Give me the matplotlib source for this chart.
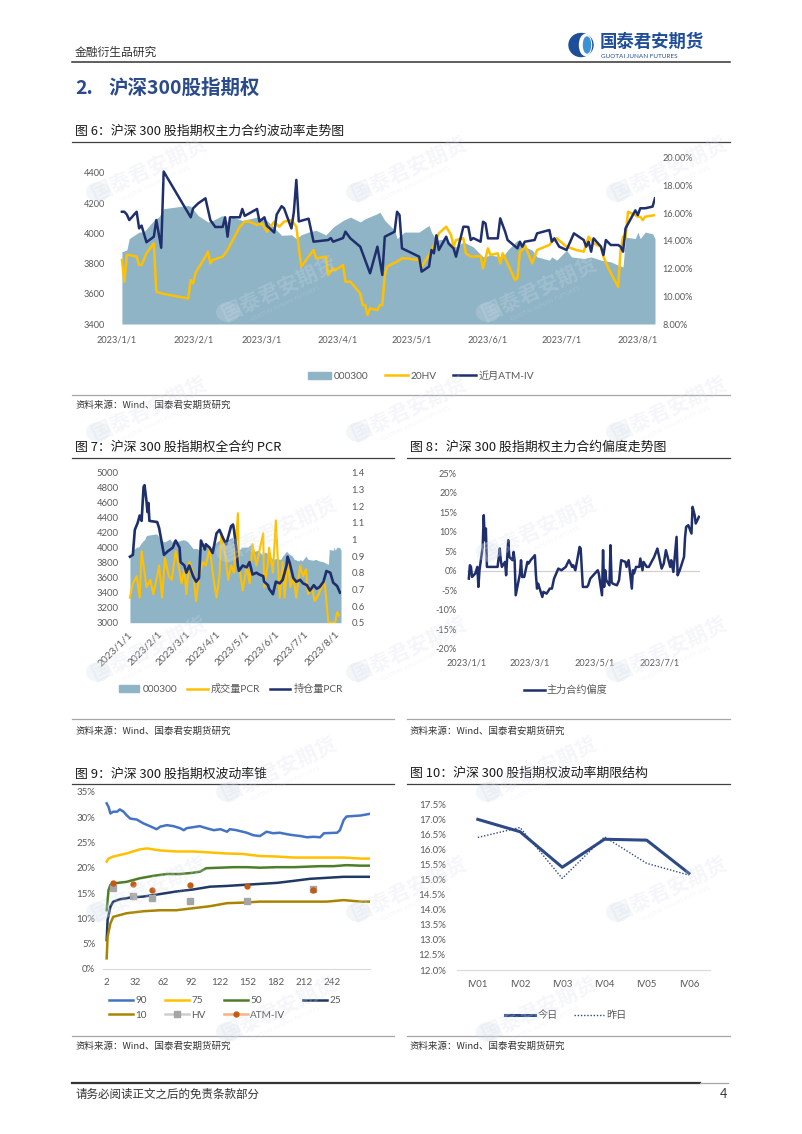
import matplotlib
matplotlib.use('Agg')
import matplotlib.pyplot as plt
import matplotlib.dates as mdates
from matplotlib.patches import Patch, Ellipse
from matplotlib.lines import Line2D
from matplotlib.ticker import FuncFormatter
import numpy as np
import pandas as pd

plt.rcParams['font.family'] = ['Lato', 'Noto Sans CJK SC', 'DejaVu Sans']
CJK = ['Noto Sans CJK SC', 'DejaVu Sans']

# ---------------- data ----------------
# 图6 / 图7: 沪深300 指数 (面积)
hs300 = [('01-03', 3877), ('01-05', 3890), ('01-06', 3965), ('01-10', 4008), ('01-12', 4010),
         ('01-16', 4085), ('01-18', 4107), ('01-20', 4163), ('01-30', 4184), ('01-31', 4178),
         ('02-03', 4118), ('02-07', 4075), ('02-09', 4085), ('02-13', 4118), ('02-15', 4075),
         ('02-17', 4107), ('02-21', 4085), ('02-27', 4107), ('03-03', 4085), ('03-07', 4020),
         ('03-09', 3987), ('03-13', 3990), ('03-15', 3965), ('03-17', 3990), ('03-20', 4008),
         ('03-23', 4020), ('03-27', 3989), ('03-30', 4041), ('04-03', 4085), ('04-06', 4107),
         ('04-10', 4075), ('04-12', 4096), ('04-17', 4130), ('04-18', 4140), ('04-20', 4085),
         ('04-24', 4020), ('04-25', 3965), ('04-28', 4008), ('05-04', 4008), ('05-05', 4020),
         ('05-08', 4052), ('05-09', 4008), ('05-11', 3954), ('05-15', 3965), ('05-17', 3932),
         ('05-19', 3910), ('05-22', 3943), ('05-26', 3910), ('05-30', 3844), ('06-02', 3855),
         ('06-07', 3844), ('06-09', 3888), ('06-13', 3954), ('06-15', 3921), ('06-19', 3888),
         ('06-21', 3844), ('06-26', 3822), ('06-27', 3844), ('06-29', 3822), ('07-03', 3888),
         ('07-05', 3844), ('07-10', 3833), ('07-13', 3844), ('07-17', 3822), ('07-21', 3811),
         ('07-24', 3789), ('07-26', 3778), ('07-27', 3975), ('07-31', 3965), ('08-01', 4008),
         ('08-02', 3965), ('08-04', 4008), ('08-07', 3997), ('08-08', 3965)]

# 图6: 20HV (%)
hv20 = [('01-03', 12.62), ('01-04', 11.05), ('01-05', 12.98), ('01-06', 12.98), ('01-09', 12.86),
        ('01-10', 12.26), ('01-11', 12.26), ('01-13', 13.1), ('01-16', 13.82), ('01-17', 10.33),
        ('01-20', 10.17), ('01-30', 9.85), ('01-31', 11.17), ('02-01', 10.94), ('02-02', 11.7),
        ('02-06', 12.86), ('02-07', 13.22), ('02-08', 12.38), ('02-09', 12.62), ('02-13', 12.86),
        ('02-15', 13.34), ('02-20', 15.02), ('02-22', 15.38), ('02-24', 15.38), ('02-27', 15.14),
        ('03-01', 15.26), ('03-03', 14.66), ('03-06', 15.38), ('03-08', 15.02), ('03-10', 15.38),
        ('03-13', 15.5), ('03-15', 15.02), ('03-16', 13.58), ('03-17', 12.14), ('03-21', 13.1),
        ('03-22', 13.34), ('03-23', 12.74), ('03-27', 12.86), ('03-28', 11.54), ('03-30', 12.02),
        ('03-31', 11.9), ('04-03', 12.26), ('04-04', 11.05), ('04-06', 11.05), ('04-10', 10.21),
        ('04-11', 9.37), ('04-12', 9.37), ('04-13', 8.65), ('04-14', 9.13), ('04-17', 9.0),
        ('04-18', 9.37), ('04-19', 9.37), ('04-20', 11.54), ('04-21', 12.14), ('04-25', 12.5),
        ('04-27', 12.74), ('04-28', 12.74), ('05-04', 12.62), ('05-05', 12.14), ('05-08', 12.98),
        ('05-10', 13.7), ('05-12', 14.54), ('05-15', 15.02), ('05-17', 14.42), ('05-18', 13.58),
        ('05-19', 14.06), ('05-22', 14.18), ('05-23', 13.1), ('05-25', 12.86), ('05-29', 12.9),
        ('05-30', 12.02), ('06-01', 13.46), ('06-02', 12.98), ('06-05', 13.1), ('06-06', 12.38),
        ('06-07', 13.1), ('06-09', 12.38), ('06-12', 11.17), ('06-13', 11.3), ('06-14', 13.22),
        ('06-15', 13.34), ('06-16', 13.7), ('06-19', 12.38), ('06-20', 12.86), ('06-21', 13.34),
        ('06-26', 13.7), ('06-27', 13.94), ('06-29', 14.18), ('07-03', 13.58), ('07-05', 13.46),
        ('07-07', 13.34), ('07-10', 13.22), ('07-12', 14.3), ('07-14', 13.82), ('07-17', 13.58),
        ('07-18', 12.86), ('07-20', 12.02), ('07-24', 10.69), ('07-25', 13.34), ('07-26', 14.3),
        ('07-27', 14.18), ('07-28', 16.1), ('07-31', 15.86), ('08-01', 15.74), ('08-02', 15.74),
        ('08-03', 15.5), ('08-04', 15.74), ('08-08', 15.86)]

# 图6: 近月ATM-IV (%)
atm_iv = [('01-03', 16.1), ('01-04', 16.1), ('01-05', 15.9), ('01-06', 15.5), ('01-09', 16.1),
          ('01-10', 14.9), ('01-11', 15.1), ('01-13', 13.9), ('01-16', 14.3), ('01-17', 15.5),
          ('01-19', 13.5), ('01-20', 19.0), ('01-31', 15.7), ('02-01', 16.35), ('02-03', 16.7),
          ('02-06', 17.07), ('02-08', 15.5), ('02-10', 15.0), ('02-13', 15.0), ('02-14', 15.7),
          ('02-15', 14.3), ('02-16', 15.7), ('02-20', 15.7), ('02-21', 16.3), ('02-22', 15.8),
          ('02-24', 16.0), ('02-27', 16.3), ('02-28', 15.4), ('03-02', 15.7), ('03-03', 15.1),
          ('03-06', 14.6), ('03-07', 15.9), ('03-09', 16.5), ('03-10', 16.35), ('03-13', 14.9),
          ('03-14', 16.1), ('03-15', 18.4), ('03-16', 15.4), ('03-20', 15.6), ('03-22', 13.94),
          ('03-28', 14.06), ('03-29', 14.2), ('03-30', 13.94), ('04-03', 14.2), ('04-04', 14.66),
          ('04-06', 14.18), ('04-10', 13.58), ('04-12', 12.62), ('04-14', 11.66), ('04-17', 13.58),
          ('04-19', 11.54), ('04-20', 14.3), ('04-24', 14.66), ('04-25', 16.1), ('04-26', 15.86),
          ('04-27', 13.46), ('05-04', 12.86), ('05-05', 11.78), ('05-08', 12.14), ('05-09', 13.34),
          ('05-10', 13.1), ('05-11', 14.4), ('05-12', 13.34), ('05-15', 14.3), ('05-16', 13.8),
          ('05-18', 13.46), ('05-19', 12.86), ('05-22', 15.02), ('05-23', 15.02), ('05-24', 15.0),
          ('05-25', 14.06), ('05-26', 14.2), ('05-29', 13.94), ('05-30', 15.38), ('05-31', 15.26),
          ('06-01', 14.18), ('06-05', 14.18), ('06-06', 15.62), ('06-08', 14.66), ('06-09', 14.06),
          ('06-13', 13.46), ('06-14', 13.94), ('06-15', 13.58), ('06-16', 13.94), ('06-20', 14.06),
          ('06-21', 14.54), ('06-26', 14.78), ('06-27', 13.94), ('06-28', 14.18), ('06-30', 13.58),
          ('07-03', 13.34), ('07-06', 14.54), ('07-10', 14.06), ('07-11', 13.58), ('07-12', 13.94),
          ('07-13', 13.22), ('07-14', 14.18), ('07-17', 13.58), ('07-18', 12.98), ('07-19', 14.06),
          ('07-21', 13.7), ('07-24', 13.7), ('07-25', 13.58), ('07-26', 13.22), ('07-27', 14.9),
          ('07-31', 16.2), ('08-01', 15.86), ('08-02', 16.35), ('08-04', 16.35), ('08-07', 16.47),
          ('08-08', 17.07)]

# 图7: 成交量PCR / 持仓量PCR
vol_pcr = [('01-03', 0.65), ('01-06', 0.736), ('01-10', 0.779), ('01-13', 0.65), ('01-15', 0.929),
           ('01-17', 0.843), ('01-20', 0.714), ('01-24', 0.757), ('01-27', 0.671), ('01-31', 0.779),
           ('02-02', 0.843), ('02-05', 0.65), ('02-08', 0.886), ('02-12', 0.779), ('02-15', 0.757),
           ('02-19', 0.929), ('02-22', 0.843), ('02-25', 0.736), ('02-28', 0.821), ('03-02', 0.671),
           ('03-05', 0.864), ('03-09', 0.80), ('03-12', 0.629), ('03-15', 0.779), ('03-19', 0.864),
           ('03-22', 0.843), ('03-26', 0.95), ('03-29', 0.80), ('04-02', 0.65), ('04-05', 0.779),
           ('04-07', 1.036), ('04-10', 0.95), ('04-14', 0.757), ('04-17', 0.843), ('04-20', 0.80),
           ('04-24', 1.157), ('04-25', 0.843), ('04-29', 0.693), ('05-03', 0.843), ('05-06', 0.736),
           ('05-09', 0.971), ('05-13', 0.843), ('05-16', 0.929), ('05-20', 1.036), ('05-21', 0.714),
           ('05-25', 0.864), ('05-26', 0.95), ('05-30', 0.80), ('06-02', 1.114), ('06-06', 0.65),
           ('06-09', 0.864), ('06-11', 0.65), ('06-14', 0.886), ('06-17', 0.714), ('06-20', 0.779),
           ('06-23', 0.65), ('06-27', 0.843), ('06-30', 0.779), ('07-03', 0.821), ('07-05', 0.671),
           ('07-09', 0.714), ('07-12', 0.629), ('07-16', 0.671), ('07-19', 0.714), ('07-22', 0.757),
           ('07-24', 0.629), ('07-26', 0.50), ('07-30', 0.50), ('08-02', 0.50), ('08-04', 0.564),
           ('08-06', 0.543)]

oi_pcr = [('01-03', 0.896), ('01-06', 0.907), ('01-08', 1.057), ('01-11', 1.10), ('01-13', 1.143),
          ('01-15', 1.111), ('01-17', 1.314), ('01-18', 1.325), ('01-20', 1.229), ('01-21', 1.164),
          ('01-22', 1.218), ('01-23', 1.111), ('01-31', 1.104), ('02-02', 1.068), ('02-04', 1.004),
          ('02-05', 0.971), ('02-07', 0.907), ('02-11', 0.929), ('02-16', 0.95), ('02-19', 0.993),
          ('02-23', 0.95), ('02-24', 0.864), ('02-28', 0.843), ('03-02', 0.80), ('03-05', 0.843),
          ('03-09', 0.779), ('03-12', 0.746), ('03-15', 0.768), ('03-17', 0.993), ('03-21', 0.939),
          ('03-22', 0.971), ('03-26', 0.95), ('03-29', 0.918), ('04-02', 1.036), ('04-05', 1.057),
          ('04-09', 1.004), ('04-12', 0.971), ('04-14', 1.014), ('04-17', 1.079), ('04-19', 1.089),
          ('04-20', 1.057), ('04-22', 0.961), ('04-24', 0.843), ('04-25', 0.811), ('04-29', 0.843),
          ('05-03', 0.832), ('05-06', 0.864), ('05-09', 0.789), ('05-13', 0.80), ('05-16', 0.789),
          ('05-20', 0.779), ('05-21', 0.746), ('05-25', 0.725), ('05-26', 0.704), ('05-30', 0.671),
          ('06-02', 0.746), ('06-06', 0.736), ('06-09', 0.757), ('06-13', 0.843), ('06-14', 0.896),
          ('06-16', 0.864), ('06-20', 0.768), ('06-23', 0.746), ('06-27', 0.757), ('06-30', 0.736),
          ('07-04', 0.725), ('07-07', 0.693), ('07-11', 0.725), ('07-14', 0.704), ('07-17', 0.714),
          ('07-21', 0.746), ('07-24', 0.81), ('07-28', 0.80), ('07-31', 0.74), ('08-04', 0.72),
          ('08-07', 0.68)]

# 图8: 主力合约偏度 (%)
skew = [('01-03', -1.97), ('01-04', 1.45), ('01-05', 1.03), ('01-06', -1.54), ('01-09', -0.68),
        ('01-10', 0.17), ('01-11', 1.03), ('01-12', -4.10), ('01-13', 0.17), ('01-16', 6.15),
        ('01-17', 14.27), ('01-18', 7.86), ('01-19', 10.85), ('01-20', 1.03), ('01-30', 1.03),
        ('02-01', 5.73), ('02-02', 2.74), ('02-03', 1.03), ('02-06', 2.31), ('02-07', -1.11),
        ('02-09', 7.86), ('02-10', 3.59), ('02-13', 2.74), ('02-14', 4.87), ('02-15', 2.74),
        ('02-16', -6.24), ('02-20', -0.68), ('02-21', 2.74), ('02-22', -1.54), ('02-24', -1.54),
        ('02-27', 2.31), ('02-28', 1.88), ('03-02', 2.74), ('03-06', 4.02), ('03-07', -1.11),
        ('03-08', -4.53), ('03-09', -3.25), ('03-10', -4.10), ('03-13', -6.67), ('03-14', -5.38),
        ('03-17', -5.81), ('03-20', -4.53), ('03-22', -4.53), ('03-24', -1.97), ('03-28', 0.60),
        ('03-31', 0.17), ('04-04', 1.03), ('04-07', 2.74), ('04-10', 1.03), ('04-11', 1.45),
        ('04-13', 0.17), ('04-17', 6.15), ('04-18', 5.73), ('04-20', -4.10), ('04-24', -4.10),
        ('04-25', -3.68), ('04-27', -1.97), ('05-04', 0.17), ('05-05', -0.68), ('05-08', -6.24),
        ('05-09', 5.30), ('05-10', -4.10), ('05-11', 0.17), ('05-12', -2.39), ('05-15', -3.68),
        ('05-16', 6.58), ('05-17', -2.82), ('05-18', -3.25), ('05-22', -3.68), ('05-24', -2.39),
        ('05-26', 2.74), ('05-30', 2.31), ('05-31', 1.03), ('06-02', 2.74), ('06-05', -4.53),
        ('06-06', 0.17), ('06-07', -0.68), ('06-09', 1.03), ('06-12', 1.03), ('06-13', 3.16),
        ('06-15', 0.17), ('06-16', 2.31), ('06-19', 1.03), ('06-21', 1.03), ('06-26', 3.59),
        ('06-29', 5.73), ('06-30', 4.44), ('07-03', 0.60), ('07-05', 1.88), ('07-07', 5.30),
        ('07-11', 1.03), ('07-12', 2.74), ('07-14', -0.26), ('07-17', 8.72), ('07-18', -1.11),
        ('07-20', 0.17), ('07-24', 3.59), ('07-25', 8.72), ('07-26', 11.28), ('07-28', 11.71),
        ('07-31', 9.57), ('08-01', 16.41), ('08-03', 14.27), ('08-04', 12.14), ('08-07', 13.85)]

# 图9: 波动率锥 (窗口期, %)
cone90 = [(2, 32.7), (4, 32.0), (6, 30.7), (9, 31.05), (13, 31.05), (16, 31.5), (20, 31.05),
          (23, 30.4), (27, 29.7), (34, 29.5), (41, 28.75), (48, 28.2), (55, 27.6), (59, 28.1),
          (66, 28.4), (73, 28.2), (80, 27.8), (84, 27.4), (87, 27.8), (94, 28.0), (101, 28.2),
          (108, 27.8), (116, 27.4), (123, 27.6), (130, 27.1), (133, 27.6), (140, 27.4),
          (151, 26.9), (158, 26.4), (165, 26.25), (172, 27.1), (179, 26.8), (186, 26.9),
          (194, 26.6), (201, 26.4), (208, 26.25), (215, 26.0), (222, 26.1), (229, 26.0),
          (233, 26.8), (247, 26.9), (250, 27.4), (254, 29.4), (257, 30.1), (264, 30.2),
          (272, 30.3), (281, 30.6)]
cone75 = [(2, 21.2), (4, 21.8), (9, 22.2), (16, 22.5), (23, 22.8), (30, 23.2), (37, 23.6),
          (45, 23.8), (52, 23.6), (59, 23.4), (76, 23.2), (94, 23.2), (112, 23.0), (130, 22.8),
          (147, 22.7), (165, 22.3), (183, 22.2), (201, 22.0), (218, 22.0), (236, 22.0),
          (254, 22.0), (272, 21.8), (281, 21.8)]
cone50 = [(2, 11.6), (4, 15.6), (6, 16.6), (9, 16.9), (23, 17.2), (37, 17.9), (52, 18.4),
          (66, 18.75), (80, 18.75), (94, 19.0), (101, 19.2), (108, 19.9), (123, 20.0),
          (137, 20.1), (151, 20.1), (165, 20.0), (183, 20.1), (201, 20.1), (215, 20.2),
          (229, 20.3), (243, 20.3), (257, 20.5), (272, 20.4), (281, 20.4)]
cone25 = [(2, 5.7), (3, 9.7), (6, 12.3), (9, 13.3), (16, 13.75), (27, 14.1), (41, 14.3),
          (52, 14.6), (59, 14.8), (76, 15.3), (94, 15.7), (112, 16.25), (130, 16.4),
          (147, 16.6), (165, 16.8), (183, 17.0), (201, 17.4), (218, 17.8), (236, 18.0),
          (254, 18.2), (281, 18.2)]
cone10 = [(2, 2.1), (3, 6.4), (6, 9.0), (9, 10.3), (23, 11.0), (41, 11.4), (59, 11.6),
          (76, 11.6), (94, 12.0), (112, 12.4), (130, 13.0), (147, 13.1), (165, 13.3),
          (183, 13.3), (201, 13.3), (218, 13.3), (236, 13.3), (254, 13.6), (272, 13.3),
          (281, 13.3)]
cone_win = [9, 30, 50, 91, 151, 221]
cone_hv = [15.9, 14.5, 14.1, 13.4, 13.4, 15.7]
cone_atm = [17.0, 16.7, 15.5, 16.6, 16.4, 15.5]

# 图10: 期限结构 (%)
iv_names = ['IV01', 'IV02', 'IV03', 'IV04', 'IV05', 'IV06']
iv_today = [17.0, 16.59, 15.41, 16.34, 16.31, 15.21]
iv_yday = [16.40, 16.73, 15.04, 16.42, 15.54, 15.15]

# ---------------- helpers ----------------
W, H = 802, 1134
FILL = '#8fb4c6'
YEL = '#ffc000'
NAVY = '#1f2f6b'
TICK = '#595959'


def rect(x0, y0, x1, y1):
    return [x0 / W, 1 - y1 / H, (x1 - x0) / W, (y1 - y0) / H]


def unzip_dates(pairs):
    d = pd.to_datetime(['2023-' + p[0] for p in pairs])
    v = np.array([p[1] for p in pairs], dtype=float)
    return d, v


def unzip(pairs):
    return np.array([p[0] for p in pairs]), np.array([p[1] for p in pairs])


def date_fmt(x, pos):
    t = mdates.num2date(x)
    return f'{t.year}/{t.month}/{t.day}'


def clean(ax):
    for s in ax.spines.values():
        s.set_visible(False)
    ax.set_facecolor('none')


fig = plt.figure(figsize=(W / 100, H / 100), dpi=100)

# background layer in pixel coordinates
bg = fig.add_axes([0, 0, 1, 1])
bg.set_xlim(0, W)
bg.set_ylim(H, 0)
bg.axis('off')

# header
bg.text(75, 52, '金融衍生品研究', fontsize=8.5, color='#333333', va='center', family=CJK)
bg.add_patch(Ellipse((581, 45), 24, 23, color='#1e4e9a'))
bg.add_patch(Ellipse((585.5, 45), 12, 21, color='white'))
bg.add_patch(Ellipse((587, 45), 7, 16, color='#3d8fd6'))
bg.text(600, 42, '国泰君安期货', fontsize=12.5, fontweight='bold', color='#1e4e9a',
        va='center', family=CJK)
bg.text(601, 56, 'GUOTAI JUNAN FUTURES', fontsize=4.6, color='#1e4e9a', va='center')
bg.plot([72, 730], [62, 62], color='#333333', lw=1.1)
bg.text(75, 88, '2.', fontsize=14, fontweight='bold', color='#2a4a8a', va='center', family=CJK)
bg.text(108, 88, '沪深300股指期权', fontsize=14, fontweight='bold', color='#2a4a8a',
        va='center', family=CJK)

# chart titles / separators / sources
titles = [(75, 131, '图 6：沪深 300 股指期权主力合约波动率走势图'),
          (75, 447, '图 7：沪深 300 股指期权全合约 PCR'),
          (410, 447, '图 8：沪深 300 股指期权主力合约偏度走势图'),
          (75, 774, '图 9：沪深 300 股指期权波动率锥'),
          (410, 773, '图 10：沪深 300 股指期权波动率期限结构')]
for x, y, t in titles:
    bg.text(x, y, t, fontsize=9.3, color='#1a1a1a', va='center', family=CJK)

for x0, x1, y in [(72, 730, 142), (72, 394, 458), (407, 730, 458), (72, 394, 783.5), (407, 730, 783.5)]:
    bg.plot([x0, x1], [y, y], color='#404040', lw=0.9)
for x0, x1, y in [(72, 730, 394.5), (72, 394, 719), (407, 730, 719), (72, 394, 1036), (407, 730, 1036)]:
    bg.plot([x0, x1], [y, y], color='#a6a6a6', lw=0.9)
for x, y in [(75, 405), (75, 731), (410, 731), (75, 1046), (410, 1046)]:
    bg.text(x, y, '资料来源：Wind、国泰君安期货研究', fontsize=6.8, color='#333333',
            va='center', family=CJK)

# footer
bg.plot([72, 700], [1083, 1083], color='#333333', lw=1.6)
bg.plot([700, 728], [1083, 1083], color='#a6a6a6', lw=0.9)
bg.text(75, 1094, '请务必阅读正文之后的免责条款部分', fontsize=8.3, color='#333333',
        va='center', family=CJK)
bg.text(727, 1094, '4', fontsize=9, color='#333333', va='center', ha='right')

month_ticks = pd.date_range('2023-01-01', '2023-08-01', freq='MS')

# ---------------- 图6 ----------------
hs_d, hs_v = unzip_dates(hs300)
hv_d, hv_v = unzip_dates(hv20)
iv_d, iv_v = unzip_dates(atm_iv)

ax6 = fig.add_axes(rect(117, 157.7, 655, 324))
clean(ax6)
ax6.fill_between(hs_d, hs_v, 3400, color=FILL, lw=0)
ax6.set_ylim(3400, 4500)
ax6.set_yticks(range(3400, 4401, 200))
ax6.set_xlim(pd.Timestamp('2023-01-01'), pd.Timestamp('2023-08-08'))
ax6.set_xticks(month_ticks)
ax6.xaxis.set_major_formatter(FuncFormatter(date_fmt))
ax6.tick_params(length=0, labelsize=6.6, labelcolor=TICK)
ax6.tick_params(axis='y', pad=8.5)
ax6.tick_params(axis='x', pad=8)
ax6r = ax6.twinx()
clean(ax6r)
ax6r.plot(hv_d, hv_v, color=YEL, lw=1.8)
ax6r.plot(iv_d, iv_v, color=NAVY, lw=1.8)
ax6r.set_ylim(8, 20)
ax6r.set_yticks(range(8, 21, 2))
ax6r.yaxis.set_major_formatter(FuncFormatter(lambda v, p: f'{v:.2f}%'))
ax6r.tick_params(length=0, labelsize=6.6, labelcolor=TICK, pad=5.5)

fig.legend([Patch(color=FILL), Line2D([], [], color=YEL, lw=1.8), Line2D([], [], color=NAVY, lw=1.8)],
           ['000300', '20HV', '近月ATM-IV'], loc='center', bbox_to_anchor=(421 / W, 1 - 376 / H),
           ncol=3, frameon=False, fontsize=7.3, labelcolor=TICK, handlelength=2.3,
           handletextpad=0.25, columnspacing=1.6)

# ---------------- 图7 ----------------
vp_d, vp_v = unzip_dates(vol_pcr)
op_d, op_v = unzip_dates(oi_pcr)

ax7 = fig.add_axes(rect(128, 472.7, 341, 622.7))
clean(ax7)
ax7.fill_between(hs_d, hs_v, 3000, color=FILL, lw=0)
ax7.set_ylim(3000, 5000)
ax7.set_yticks(range(3000, 5001, 200))
ax7.set_xlim(pd.Timestamp('2023-01-01'), pd.Timestamp('2023-08-08'))
ax7.set_xticks(month_ticks)
ax7.xaxis.set_major_formatter(FuncFormatter(date_fmt))
ax7.tick_params(length=0, labelsize=6.8, labelcolor=TICK)
ax7.tick_params(axis='y', pad=6.5)
ax7.tick_params(axis='x', pad=5, labelsize=7.3)
for lab in ax7.get_xticklabels():
    lab.set_rotation(45)
    lab.set_ha('right')
    lab.set_rotation_mode('anchor')
ax7r = ax7.twinx()
clean(ax7r)
ax7r.plot(vp_d, vp_v, color=YEL, lw=1.5)
ax7r.plot(op_d, op_v, color=NAVY, lw=1.9)
ax7r.set_ylim(0.5, 1.4)
ax7r.set_yticks(np.round(np.arange(0.5, 1.41, 0.1), 1))
ax7r.yaxis.set_major_formatter(FuncFormatter(lambda v, p: f'{round(v, 1):g}'))
ax7r.tick_params(length=0, labelsize=6.8, labelcolor=TICK, pad=7.5)

fig.legend([Patch(color=FILL), Line2D([], [], color=YEL, lw=1.8), Line2D([], [], color=NAVY, lw=1.8)],
           ['000300', '成交量PCR', '持仓量PCR'], loc='center', bbox_to_anchor=(231 / W, 1 - 689 / H),
           ncol=3, frameon=False, fontsize=7.3, labelcolor=TICK, handlelength=2.0,
           handletextpad=0.3, columnspacing=1.0)

# ---------------- 图8 ----------------
sk_d, sk_v = unzip_dates(skew)
ax8 = fig.add_axes(rect(466.7, 473.3, 700, 649))
clean(ax8)
ax8.axhline(0, color='#d0d0d0', lw=0.9, zorder=1)
ax8.plot(sk_d, sk_v, color=NAVY, lw=1.8, zorder=2)
ax8.set_ylim(-20, 25)
ax8.set_yticks(range(-20, 26, 5))
ax8.yaxis.set_major_formatter(FuncFormatter(lambda v, p: f'{int(v)}%'))
ax8.set_xlim(pd.Timestamp('2023-01-01'), pd.Timestamp('2023-08-08'))
ax8.set_xticks(pd.to_datetime(['2023-01-01', '2023-03-01', '2023-05-01', '2023-07-01']))
ax8.xaxis.set_major_formatter(FuncFormatter(date_fmt))
ax8.tick_params(length=0, labelsize=6.6, labelcolor=TICK)
ax8.tick_params(axis='y', pad=7)
ax8.tick_params(axis='x', pad=6.5)
fig.legend([Line2D([], [], color=NAVY, lw=1.8)], ['主力合约偏度'], loc='center',
           bbox_to_anchor=(566 / W, 1 - 690 / H), frameon=False, fontsize=7.3,
           labelcolor=TICK, handlelength=2.0, handletextpad=0.2)

# ---------------- 图9 ----------------
ax9 = fig.add_axes(rect(103, 791.7, 370, 969))
clean(ax9)
ax9.spines['bottom'].set_visible(True)
ax9.spines['bottom'].set_color('#d9d9d9')
cone_cols = {'90': '#4472c4', '75': '#ffc000', '50': '#4e7d2a', '25': '#203864', '10': '#a88400'}
for name, series in [('90', cone90), ('75', cone75), ('50', cone50), ('25', cone25), ('10', cone10)]:
    wx, wy = unzip(series)
    ax9.plot(wx, wy, color=cone_cols[name], lw=1.8)
ax9.plot(cone_win, cone_hv, ls='none', marker='s', ms=5, color='#a5a5a5')
ax9.plot(cone_win, cone_atm, ls='none', marker='o', ms=3.5, color='#c55a11')
ax9.set_xlim(-1.9, 282)
ax9.set_ylim(0, 35)
ax9.set_xticks(range(2, 243, 30))
ax9.set_yticks(range(0, 36, 5))
ax9.yaxis.set_major_formatter(FuncFormatter(lambda v, p: f'{int(v)}%'))
ax9.tick_params(length=0, labelsize=7, labelcolor=TICK)
ax9.tick_params(axis='y', pad=5.5)
ax9.tick_params(axis='x', pad=6.5)

h = {k: Line2D([], [], color=c, lw=1.8) for k, c in cone_cols.items()}
h_hv = Line2D([], [], color='#cfcfcf', lw=1.8, marker='s', ms=4.5, mfc='#a5a5a5', mec='#a5a5a5')
h_atm = Line2D([], [], color='#f4b183', lw=1.8, marker='o', ms=3.5, mfc='#c55a11', mec='#c55a11')
fig.legend([h['90'], h['10'], h['75'], h_hv, h['50'], h_atm, h['25']],
           ['90', '10', '75', 'HV', '50', 'ATM-IV', '25'], loc='center',
           bbox_to_anchor=(225 / W, 1 - 1008 / H), ncol=4, frameon=False, fontsize=7.2,
           labelcolor=TICK, handlelength=2.4, handletextpad=0.25, columnspacing=1.8,
           labelspacing=0.55)

# ---------------- 图10 ----------------
ax10 = fig.add_axes(rect(456.7, 804.3, 710, 970))
clean(ax10)
ax10.spines['bottom'].set_visible(True)
ax10.spines['bottom'].set_color('#d9d9d9')
xi = np.arange(len(iv_names))
ax10.plot(xi, iv_today, color='#2e4a86', lw=2.2)
ax10.plot(xi, iv_yday, color='#2e4a86', lw=1.0, ls=(0, (1, 1.3)))
ax10.set_xlim(-0.5, 5.5)
ax10.set_ylim(12.0, 17.5)
ax10.set_xticks(xi)
ax10.set_xticklabels(iv_names)
ax10.set_yticks(np.arange(12.0, 17.51, 0.5))
ax10.yaxis.set_major_formatter(FuncFormatter(lambda v, p: f'{v:.1f}%'))
ax10.tick_params(length=0, labelsize=7, labelcolor=TICK)
ax10.tick_params(axis='y', pad=8)
ax10.tick_params(axis='x', pad=7)
fig.legend([Line2D([], [], color='#2e4a86', lw=2.2), Line2D([], [], color='#2e4a86', lw=1.0, ls=(0, (1, 1.3)))],
           ['今日', '昨日'], loc='center', bbox_to_anchor=(566 / W, 1 - 1015.5 / H), ncol=2,
           frameon=False, fontsize=7.3, labelcolor=TICK, handlelength=2.9, handletextpad=0.3,
           columnspacing=1.6)

# ---------------- watermark ----------------
top = fig.add_axes([0, 0, 1, 1], zorder=10)
top.set_xlim(0, W)
top.set_ylim(H, 0)
top.axis('off')
marks = []
for r, y in enumerate([170, 290, 410, 530, 650, 770, 890, 1010]):
    xs = [150, 410, 670] if r % 2 == 0 else [280, 540]
    for x in xs:
        marks.append((x, y))
WM = '#d3dde9'
for x, y in marks:
    top.add_patch(Ellipse((x - 52, y + 22), 24, 20, color=WM, alpha=0.25, lw=0))
    top.text(x, y, '国泰君安期货', fontsize=15, fontweight='bold', color=WM, alpha=0.25,
             rotation=25, ha='center', va='center', family=CJK)
    top.text(x + 6, y + 14, 'GUOTAI JUNAN FUTURES', fontsize=4.5, color=WM, alpha=0.25,
             rotation=25, ha='center', va='center')

fig.savefig('out.png', dpi=100)
